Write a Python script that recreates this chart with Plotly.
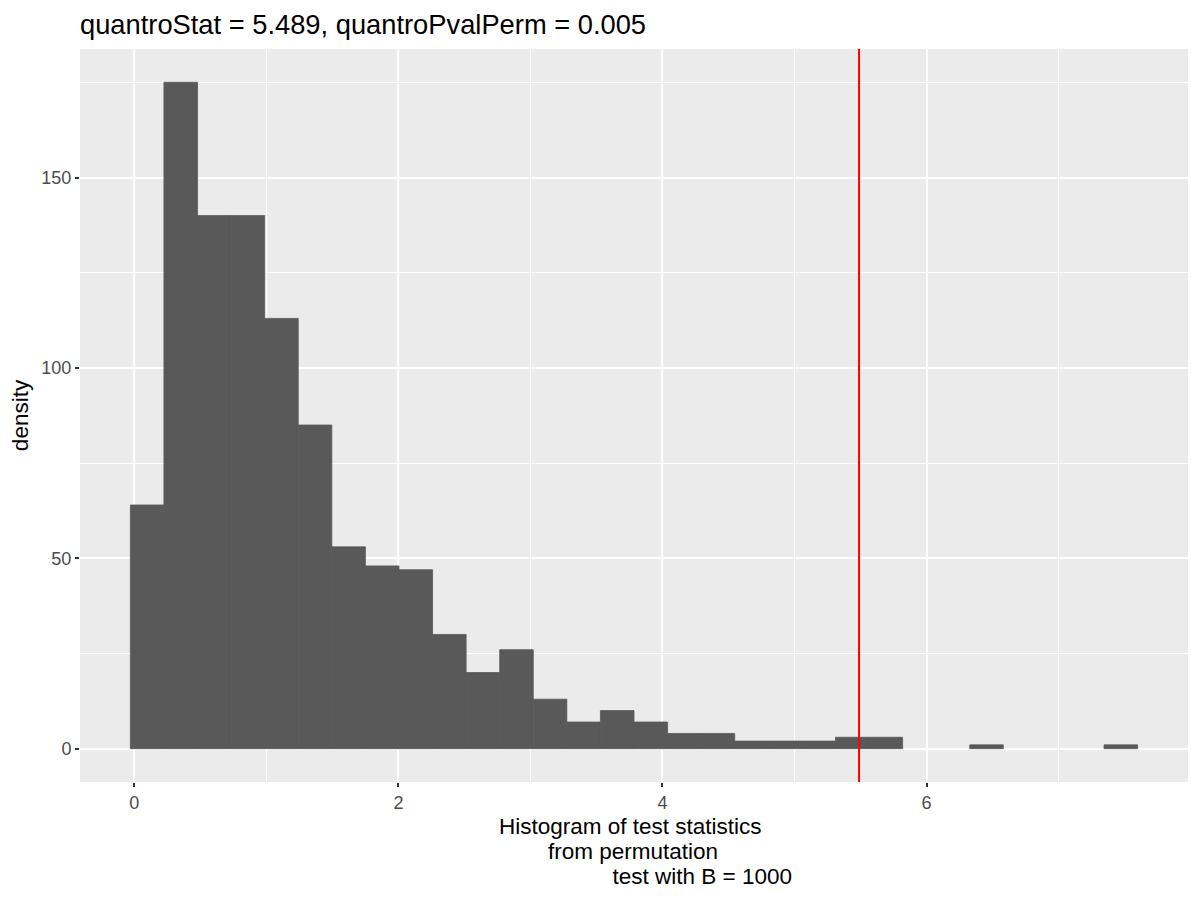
import plotly.graph_objects as go

# histogram of permutation test statistics (30 bins, counts)
bin_start = -0.030
bin_width = 0.2543
counts = [64, 175, 140, 140, 113, 85, 53, 48, 47, 30,
          20, 26, 13, 7, 10, 7, 4, 4, 2, 2,
          2, 3, 3, 0, 0, 1, 0, 0, 0, 1]
quantro_stat = 5.489
pval_perm = 0.005
n_perm = 1000

x_ticks = [0, 2, 4, 6]
y_ticks = [0, 50, 100, 150]

centers = [bin_start + (i + 0.5) * bin_width for i in range(len(counts))]
# outline in the fill colour hides the seams between adjacent bars, none for empty bins
outline = [0.8 if c > 0 else 0 for c in counts]

# ggplot-style 5% expansion of the data range
x_lo, x_hi = bin_start, bin_start + len(counts) * bin_width
x_pad = 0.05 * (x_hi - x_lo)
y_hi = max(counts)
y_pad = 0.05 * y_hi

bar_col = "#595959"
nb = "\u00a0"

fig = go.Figure()
fig.add_trace(go.Bar(x=centers, y=counts, width=bin_width,
                     marker=dict(color=bar_col, line=dict(color=bar_col, width=outline)),
                     showlegend=False, hoverinfo="x+y"))
fig.add_vline(x=quantro_stat, line_color="#FF0000", line_width=2)

# x-axis title: three lines, the way the R label string lays them out
xlab_lines = ["Histogram of test statistics" + nb,
              "from permutation",
              nb * 22 + "test with B = " + str(n_perm)]
for i, line in enumerate(xlab_lines):
    fig.add_annotation(text=line, xref="paper", yref="paper", x=0.4995, y=0,
                       xanchor="center", yanchor="middle", yshift=-44 - 25 * i,
                       showarrow=False, font=dict(size=22.5, color="black"))

axis_common = dict(
    showgrid=True, gridcolor="white", gridwidth=2,
    zeroline=False, showline=False, automargin=False,
    ticks="outside", ticklen=4, tickwidth=2, tickcolor="#333333",
    tickfont=dict(size=18, color="#4D4D4D"),
)

fig.update_layout(
    width=1200, height=900,
    paper_bgcolor="white", plot_bgcolor="#EBEBEB",
    font=dict(family="Liberation Sans, Arial, sans-serif", color="black"),
    margin=dict(l=80, r=12, t=49, b=118),
    title=dict(text="quantroStat = %.3f, quantroPvalPerm = %.3f" % (quantro_stat, pval_perm),
               x=0, xref="paper", xanchor="left",
               y=1 - 24 / 900, yref="container", yanchor="middle",
               font=dict(size=27.3, color="black")),
    xaxis=dict(axis_common, range=[x_lo - x_pad, x_hi + x_pad],
               tickvals=x_ticks, ticktext=[str(v) for v in x_ticks],
               minor=dict(dtick=1, tick0=0, showgrid=True, gridcolor="white", gridwidth=1)),
    yaxis=dict(axis_common, range=[-y_pad, y_hi + y_pad],
               tickvals=y_ticks, ticktext=[str(v) for v in y_ticks],
               minor=dict(dtick=25, tick0=0, showgrid=True, gridcolor="white", gridwidth=1),
               title=dict(text="density", font=dict(size=22.5, color="black"), standoff=6)),
)

# the page body has a default 8px margin; drop it so the figure sits at the window corner
fig.write_html("out.html", config={"displayModeBar": False},
               post_script="document.body.style.margin='0';")
